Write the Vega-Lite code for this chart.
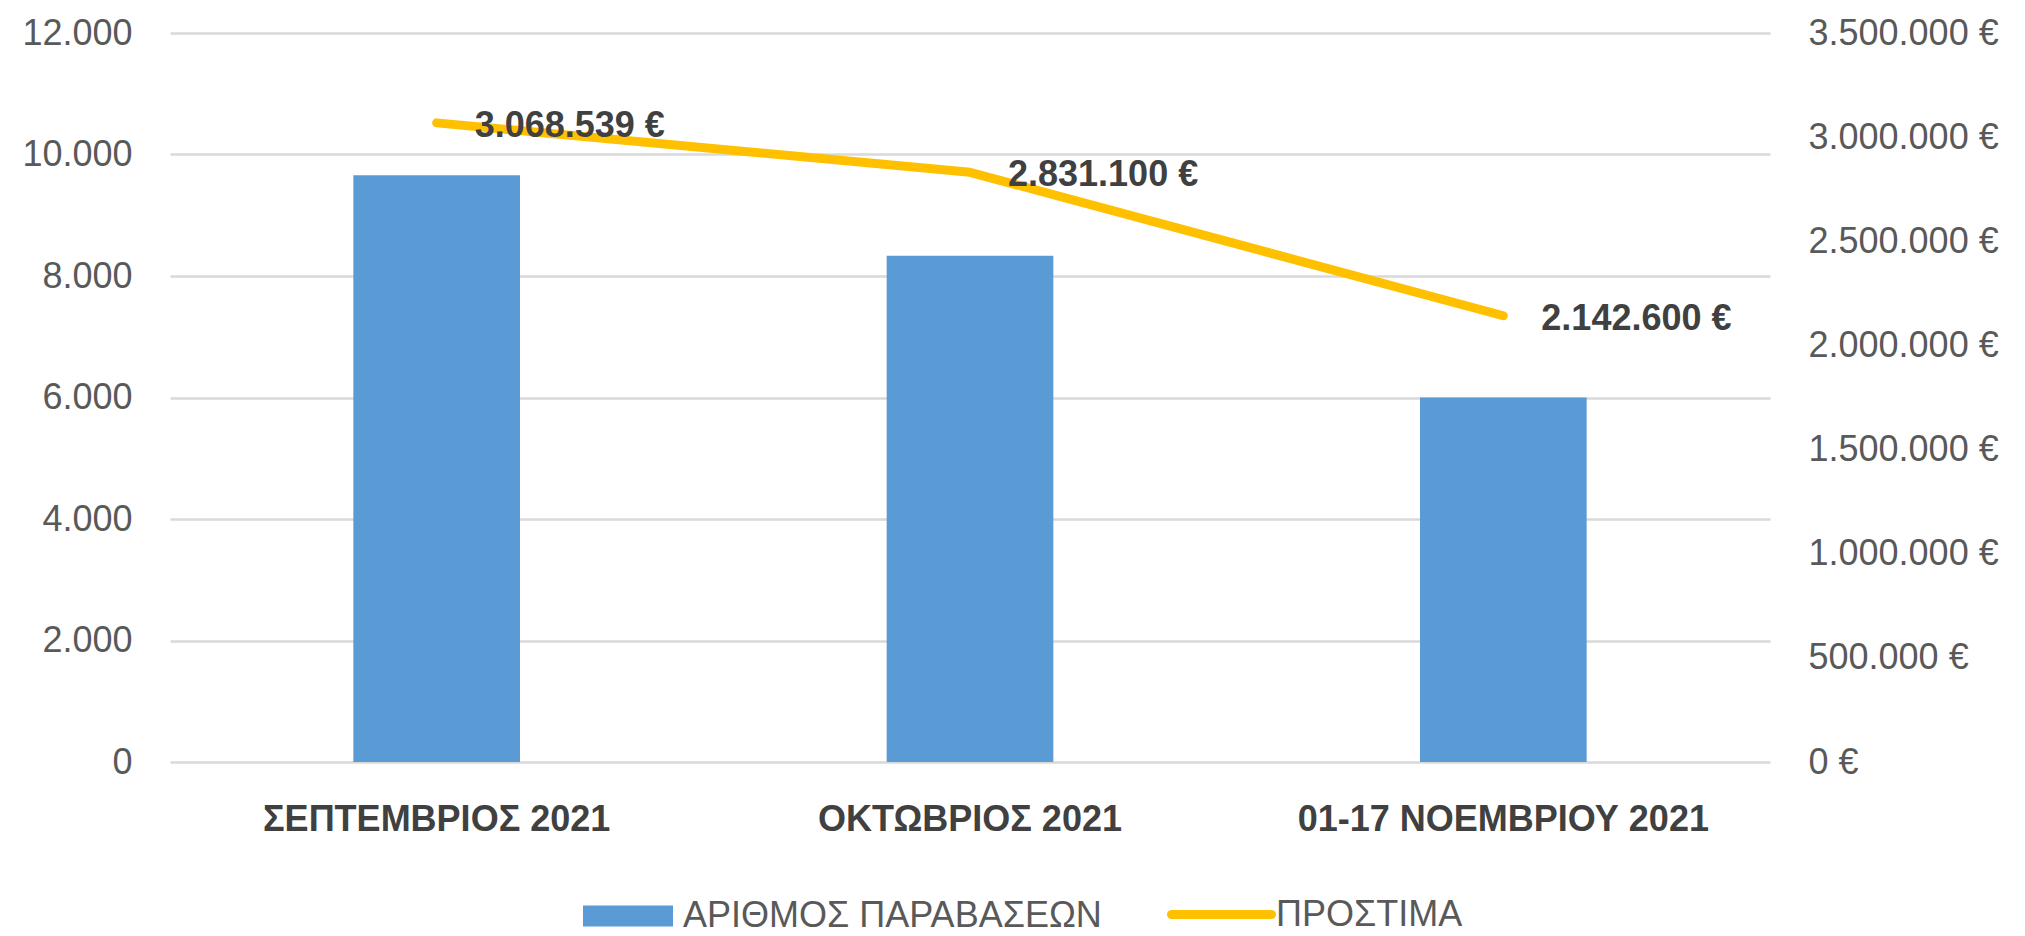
{
  "$schema": "https://vega.github.io/schema/vega-lite/v6.json",
  "width": 1600,
  "height": 729,
  "autosize": {"type": "none"},
  "padding": {"left": 170, "top": 33, "right": 255, "bottom": 174},
  "background": "white",
  "config": {
    "locale": {"number": {"decimal": ",", "thousands": ".", "grouping": [3], "currency": ["", " €"]}},
    "view": {"stroke": null},
    "font": "Liberation Sans"
  },
  "data": {
    "values": [
      {"month": "ΣΕΠΤΕΜΒΡΙΟΣ 2021", "violations": 9660, "fines": 3068539},
      {"month": "ΟΚΤΩΒΡΙΟΣ 2021", "violations": 8335, "fines": 2831100},
      {"month": "01-17 ΝΟΕΜΒΡΙΟΥ 2021", "violations": 6000, "fines": 2142600}
    ]
  },
  "encoding": {
    "x": {
      "field": "month", "type": "nominal", "sort": null,
      "scale": {"paddingInner": 0, "paddingOuter": 0},
      "axis": {
        "title": null, "labelAngle": 0, "domain": false, "ticks": false, "tickSize": 0,
        "labelPadding": 40, "labelFontSize": 36, "labelFontWeight": "bold",
        "labelColor": "#404040", "labelLimit": 0, "grid": false
      }
    }
  },
  "layer": [
    {
      "mark": {"type": "bar", "width": {"band": 0.3125}},
      "encoding": {
        "y": {
          "field": "violations", "type": "quantitative",
          "scale": {"domain": [0, 12000], "nice": false},
          "axis": {
            "orient": "left", "title": null, "values": [0, 2000, 4000, 6000, 8000, 10000, 12000],
            "format": ",.0f", "grid": true, "gridColor": "#D9D9D9", "gridWidth": 2.5,
            "domain": false, "ticks": false, "tickSize": 0, "labelPadding": 38,
            "labelFontSize": 36, "labelColor": "#595959", "labelLimit": 0
          }
        },
        "color": {
          "datum": "ΑΡΙΘΜΟΣ ΠΑΡΑΒΑΣΕΩΝ",
          "scale": {"range": ["#5B9BD5"]},
          "legend": {
            "orient": "none", "legendX": 413, "legendY": 838, "title": null, "padding": 0,
            "symbolType": "M-1,-0.233L1,-0.233L1,0.233L-1,0.233Z", "symbolSize": 8100,
            "symbolStrokeWidth": 0, "labelOffset": 10, "labelFontSize": 36,
            "labelColor": "#595959", "labelLimit": 0
          }
        }
      }
    },
    {
      "mark": {"type": "line", "strokeWidth": 9, "strokeCap": "round", "strokeJoin": "round"},
      "encoding": {
        "y": {
          "field": "fines", "type": "quantitative",
          "scale": {"domain": [0, 3500000], "nice": false},
          "axis": {
            "orient": "right", "title": null,
            "values": [0, 500000, 1000000, 1500000, 2000000, 2500000, 3000000, 3500000],
            "format": "$,.0f", "grid": false, "domain": false, "ticks": false, "tickSize": 0,
            "labelPadding": 38, "labelFontSize": 36, "labelColor": "#595959", "labelLimit": 0
          }
        },
        "stroke": {
          "datum": "ΠΡΟΣΤΙΜΑ",
          "scale": {"range": ["#FFC000"]},
          "legend": {
            "orient": "none", "legendX": 997, "legendY": 827, "title": null, "padding": 0,
            "symbolType": "stroke", "symbolSize": 10000, "symbolStrokeWidth": 9,
            "labelOffset": 0, "labelFontSize": 36, "labelColor": "#595959", "labelLimit": 0,
            "encode": {"symbols": {"update": {"strokeCap": {"value": "round"}}}}
          }
        }
      }
    },
    {
      "mark": {"type": "text", "align": "left", "baseline": "middle", "dx": 38, "dy": 3,
               "fontSize": 36, "fontWeight": "bold", "color": "#404040"},
      "encoding": {
        "y": {
          "field": "fines", "type": "quantitative",
          "scale": {"domain": [0, 3500000], "nice": false},
          "axis": null
        },
        "text": {"field": "fines", "type": "quantitative", "format": "$,.0f"}
      }
    }
  ],
  "resolve": {"scale": {"y": "independent"}}
}
